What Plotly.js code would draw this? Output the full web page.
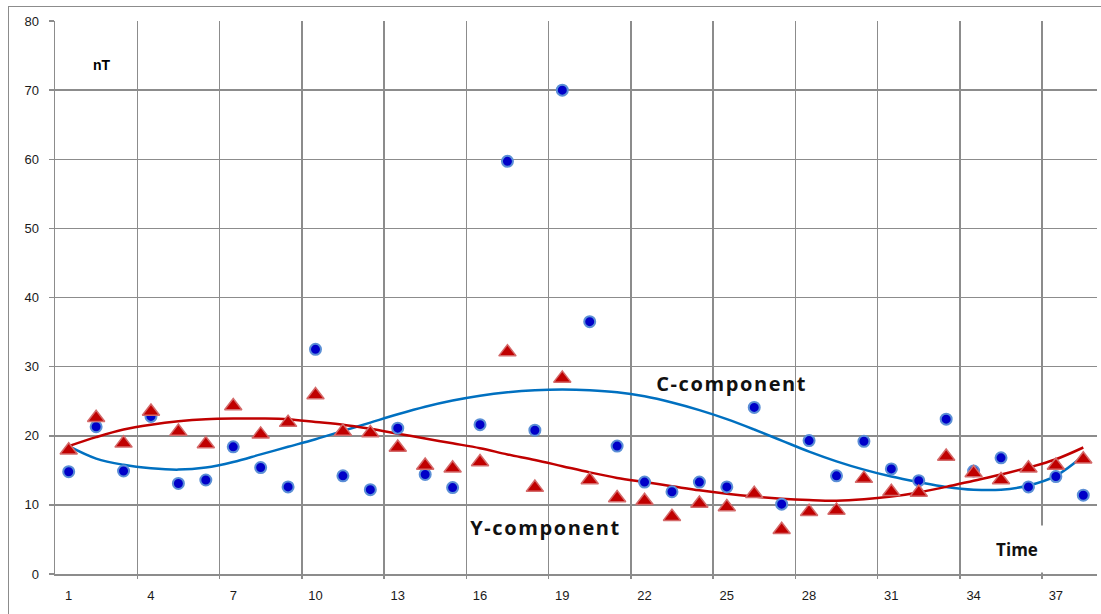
<!DOCTYPE html>
<html>
<head>
<meta charset="utf-8">
<script src="https://cdn.plot.ly/plotly-3.0.1.min.js"></script>
<style>
  html, body { margin: 0; padding: 0; background: #fff; }
  #wrap { position: relative; width: 1101px; height: 614px; overflow: hidden; }
  #chart { position: absolute; left: 0; top: 0; width: 1101px; height: 614px; }
  #frame { position: absolute; left: 8px; top: 6px; width: 1200px; height: 700px;
           border-left: 1.5px solid #8c8c8c; border-top: 1.5px solid #8c8c8c; pointer-events: none; }
</style>
</head>
<body>
<div id="wrap">
  <div id="chart"></div>
  <div id="frame"></div>
</div>
<script>
// ---- data ----
const categories = [1,2,3,4,5,6,7,8,9,10,11,12,13,14,15,16,17,18,19,20,21,22,23,24,25,26,27,28,29,30,31,32,33,34,35,36,37,38];
const cComponent = [14.8,21.3,14.9,22.8,13.1,13.6,18.4,15.4,12.6,32.5,14.2,12.2,21.1,14.4,12.5,21.6,59.7,20.8,70.0,36.5,18.5,13.3,11.9,13.3,12.6,24.1,10.1,19.3,14.2,19.2,15.2,13.5,22.4,14.9,16.8,12.6,14.1,11.4];
const yComponent = [17.9,22.6,18.9,23.5,20.6,18.8,24.3,20.2,21.9,25.9,20.6,20.4,18.3,15.7,15.3,16.2,32.1,12.5,28.3,13.6,11.0,10.6,8.3,10.2,9.7,11.6,6.4,9.0,9.2,13.8,11.9,11.8,17.0,14.6,13.6,15.3,15.7,16.6];
const cTrend = [18.5,16.7,15.8,15.3,15.1,15.4,16.2,17.3,18.4,19.5,20.7,21.9,23.1,24.2,25.1,25.8,26.3,26.6,26.7,26.6,26.3,25.7,24.8,23.7,22.4,20.9,19.3,17.7,16.3,15.1,14.1,13.3,12.6,12.2,12.2,12.8,14.2,17.1];
const yTrend = [18.5,19.8,20.9,21.6,22.1,22.4,22.5,22.5,22.4,22.0,21.6,21.0,20.3,19.6,18.9,18.2,17.3,16.5,15.6,14.7,13.9,13.3,12.7,12.1,11.6,11.2,10.9,10.7,10.6,10.8,11.2,11.8,12.6,13.5,14.4,15.4,16.6,18.3];
const xTickLabels = [1,4,7,10,13,16,19,22,25,28,31,34,37];
const xGridBounds = [3.5,6.5,9.5,12.5,15.5,18.5,21.5,24.5,27.5,30.5,33.5,36.5];
const yTickValues = [0,10,20,30,40,50,60,70,80];

const gridColor = '#8c8c8c';
const tickFont = {family: 'Liberation Sans, Arial, sans-serif', size: 13, color: '#1a1a1a'};

const traces = [
  {x: categories, y: cTrend, type: 'scatter', mode: 'lines', line: {color: '#0070C0', width: 2.5, shape: 'spline', smoothing: 1}, hoverinfo: 'skip'},
  {x: categories, y: yTrend, type: 'scatter', mode: 'lines', line: {color: '#C00000', width: 2.5, shape: 'spline', smoothing: 1}, hoverinfo: 'skip'},
  {x: categories, y: cComponent, type: 'scatter', mode: 'markers',
   marker: {symbol: 'circle', size: 11, color: '#0000C8', line: {color: '#5B8FD6', width: 2}}},
  {x: categories, y: yComponent, type: 'scatter', mode: 'markers',
   marker: {symbol: 'triangle-up', size: 15, color: '#C00000', line: {color: '#D46A6A', width: 1.5}}},
  // invisible trace to activate the grid axis
  {x: [0.5, 38.5], y: [0, 0], xaxis: 'x2', type: 'scatter', mode: 'none', hoverinfo: 'skip', showlegend: false}
];

const labelFont = 'Open Sans, sans-serif';
const layout = {
  width: 1101, height: 614,
  margin: {l: 55, r: 4, t: 21, b: 40, pad: 0},
  paper_bgcolor: 'rgba(0,0,0,0)', plot_bgcolor: '#fff',
  showlegend: false,
  xaxis: {
    range: [0.5, 38.5], tickmode: 'array', tickvals: xTickLabels, ticktext: xTickLabels.map(String),
    showgrid: false, zeroline: false, showline: true, linecolor: gridColor, linewidth: 1.5,
    ticks: '', tickfont: tickFont, ticklabelstandoff: 9, fixedrange: true
  },
  xaxis2: {
    overlaying: 'x', side: 'bottom', range: [0.5, 38.5], tickmode: 'array', tickvals: xGridBounds,
    showticklabels: false, showgrid: true, gridcolor: gridColor, gridwidth: 1.5,
    ticks: 'outside', ticklen: 4, tickcolor: gridColor, tickwidth: 1.5, zeroline: false, showline: false
  },
  yaxis: {
    range: [0, 80], tickmode: 'array', tickvals: yTickValues, ticktext: yTickValues.map(String),
    showgrid: true, gridcolor: gridColor, gridwidth: 1.5, zeroline: false,
    showline: true, linecolor: gridColor, linewidth: 1.5,
    ticks: 'outside', ticklen: 5, tickcolor: gridColor, tickwidth: 1.5,
    tickfont: tickFont, ticklabelstandoff: 7, fixedrange: true
  },
  annotations: [
    {text: '<b>nT</b>', x: 2.2, y: 73.7, xref: 'x', yref: 'y', showarrow: false,
     font: {family: 'Liberation Sans, Arial, sans-serif', size: 14, color: '#000'}},
    {text: '<b>C-component</b>', x: 25.2, y: 27.6, xref: 'x', yref: 'y', showarrow: false,
     font: {family: labelFont, size: 20, color: '#111'}},
    {text: '<b>Y-component</b>', x: 18.4, y: 6.7, xref: 'x', yref: 'y', showarrow: false,
     font: {family: labelFont, size: 20, color: '#111'}},
    {text: '<b>Time</b>', x: 35.6, y: 3.6, xref: 'x', yref: 'y', showarrow: false,
     bgcolor: '#fff', width: 60, height: 44,
     font: {family: labelFont, size: 17, color: '#111'}}
  ]
};

Plotly.newPlot('chart', traces, layout, {displayModeBar: false, staticPlot: true}).then(function (gd) {
  // the reference's component labels are set with expanded letter spacing
  const texts = gd.querySelectorAll('.annotation-text');
  [1, 2].forEach(function (i) {
    if (texts[i]) texts[i].style.letterSpacing = '1.6px';
  });
});
</script>
</body>
</html>
